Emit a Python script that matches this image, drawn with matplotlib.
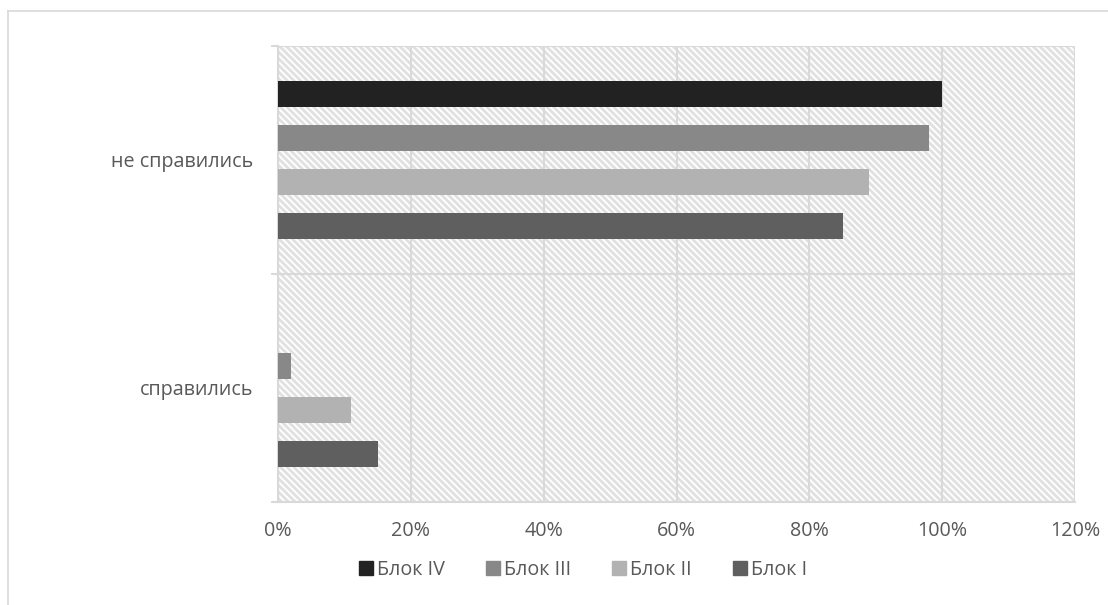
import matplotlib
matplotlib.use("Agg")
import matplotlib.pyplot as plt
from matplotlib.patches import Rectangle
from matplotlib.lines import Line2D
import numpy as np

categories = ["справились", "не справились"]
series_names = ["Блок I", "Блок II", "Блок III", "Блок IV"]
values = {
    "Блок I":   [15, 85],
    "Блок II":  [11, 89],
    "Блок III": [2, 98],
    "Блок IV":  [0, 100],
}
colors = {
    "Блок I": "#5f5f5f",
    "Блок II": "#b2b2b2",
    "Блок III": "#888888",
    "Блок IV": "#222222",
}
xticks = [0, 20, 40, 60, 80, 100, 120]
legend_order = ["Блок IV", "Блок III", "Блок II", "Блок I"]

plt.rcParams['font.family'] = ['Open Sans', 'DejaVu Sans']
plt.rcParams['hatch.linewidth'] = 2.0

W, H = 1108, 605
fig = plt.figure(figsize=(W / 100, H / 100), dpi=100)
ax = fig.add_axes([278 / W, 1 - 502 / H, (1075 - 278) / W, (502 - 46) / H])

# hatched background
bg = Rectangle((0, 0), 1, 1, transform=ax.transAxes, facecolor="white",
               edgecolor="#e0e0e0", hatch="\\\\\\\\\\", lw=0, zorder=0)
ax.add_patch(bg)

step = 0.193
height = 0.118
y = np.arange(len(categories))
for i, name in enumerate(series_names):
    off = (i - 1.5) * step
    ax.barh(y + off, values[name], height=height, color=colors[name],
            lw=0, zorder=3)

ax.set_xlim(0, 120)
ax.set_ylim(-0.5, 1.5)
ax.set_xticks(xticks)
ax.set_xticklabels([f"{t}%" for t in xticks])
ax.set_yticks(y)
ax.set_yticklabels(categories)
ax.set_yticks([-0.5, 0.5, 1.5], minor=True)

grid_c = "#d9d9d9"
ax.xaxis.grid(True, color=grid_c, lw=1.5, zorder=1)
ax.set_axisbelow(True)
ax.axhline(0.5, color=grid_c, lw=1.5, zorder=1)
ax.axhline(1.5, color=grid_c, lw=1.5, zorder=1)

for s in ["top", "right"]:
    ax.spines[s].set_visible(False)
ax.spines["left"].set_color(grid_c)
ax.spines["left"].set_linewidth(1.5)
ax.spines["bottom"].set_color(grid_c)
ax.spines["bottom"].set_linewidth(1.5)

fs = 14.2
ax.tick_params(axis="x", length=0, pad=14, labelsize=fs, labelcolor="#595959")
ax.tick_params(axis="y", which="major", length=0, pad=18, labelsize=fs, labelcolor="#595959")
ax.tick_params(axis="y", which="minor", length=5, width=1.5, color=grid_c)

# legend
handles = [Line2D([], [], marker="s", linestyle="none", markersize=10,
                  markerfacecolor=colors[n], markeredgecolor=colors[n]) for n in legend_order]
fig.legend(handles, legend_order, loc="center", bbox_to_anchor=(582 / W, 1 - 570 / H),
           ncol=4, frameon=False, fontsize=fs, labelcolor="#595959",
           handletextpad=0.1, columnspacing=2.0, handlelength=0.9)

# outer border (top & left)
fig.add_artist(Line2D([8 / W, 1.0], [1 - 11 / H, 1 - 11 / H], transform=fig.transFigure,
                      color="#d9d9d9", lw=1.2))
fig.add_artist(Line2D([8 / W, 8 / W], [0, 1 - 11 / H], transform=fig.transFigure,
                      color="#d9d9d9", lw=1.2))

fig.savefig("out.png", dpi=100)
